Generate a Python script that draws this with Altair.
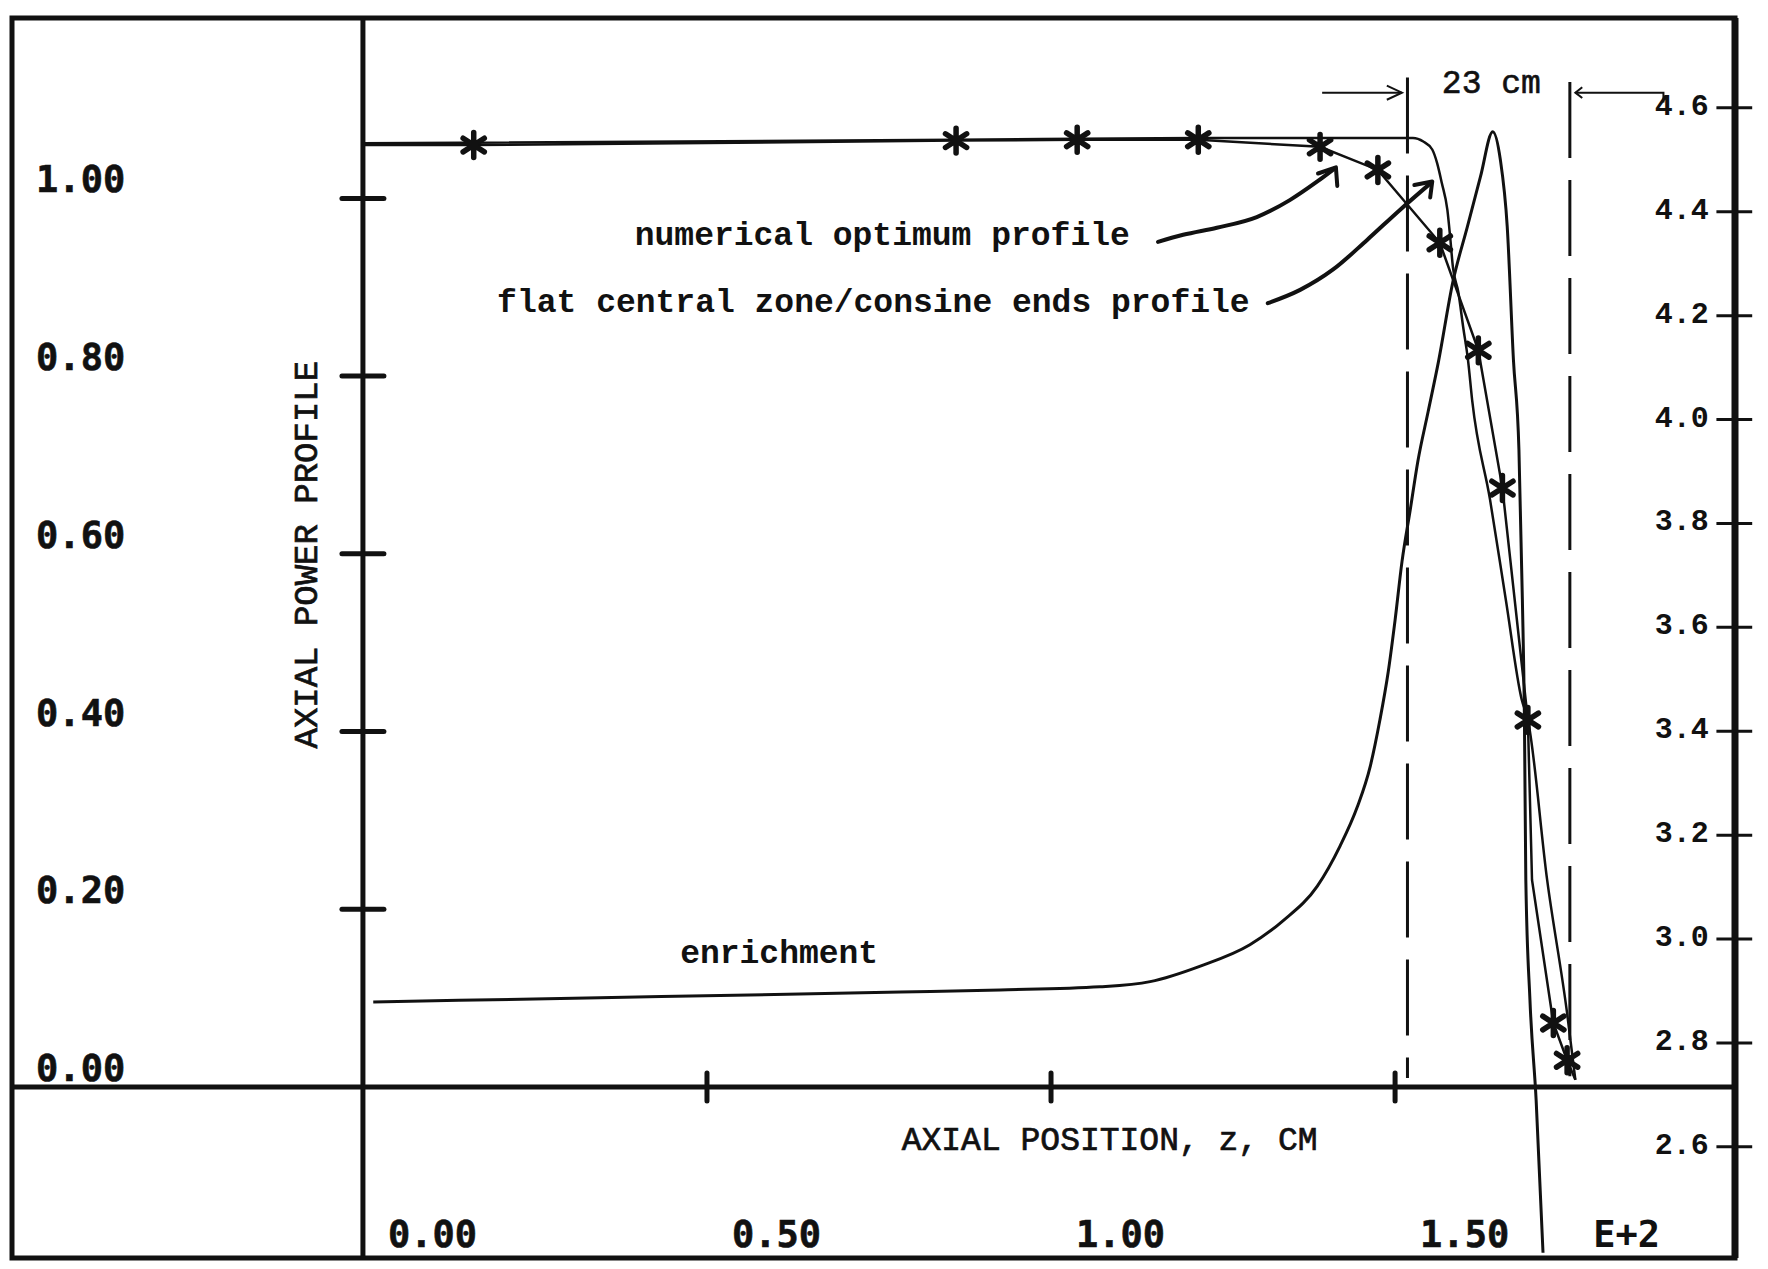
import altair as alt
import pandas as pd

# Axial position z is in units of 1E+2 cm.
# Numerical optimum power profile (asterisks mark the computed nodes).
optimum_z = [0.0, 0.161, 0.862, 1.038, 1.214, 1.391, 1.475, 1.565, 1.621, 1.656,
             1.693, 1.699, 1.730, 1.750, 1.762]
optimum_p = [1.060, 1.060, 1.065, 1.066, 1.066, 1.058, 1.032, 0.950, 0.829, 0.674,
             0.413, 0.233, 0.072, 0.030, 0.008]
optimum_star = [False, True, True, True, True, True, True, True, True, True,
                True, False, True, True, False]

# Flat central zone with cosine-shaped ends.
flat_z = [0.0, 0.862, 1.214, 1.526, 1.541, 1.554, 1.561, 1.568, 1.576, 1.580,
          1.584, 1.592, 1.599, 1.606, 1.612, 1.638, 1.661, 1.684, 1.693, 1.721,
          1.750, 1.762]
flat_p = [1.062, 1.066, 1.068, 1.068, 1.064, 1.055, 1.040, 1.017, 0.987, 0.957,
          0.923, 0.894, 0.855, 0.818, 0.773, 0.661, 0.548, 0.436, 0.413, 0.233,
          0.083, 0.008]

# Enrichment distribution (right-hand scale).
enrich_z = [0.015, 0.344, 0.781, 0.926, 1.071, 1.144, 1.217, 1.289, 1.337, 1.387,
            1.420, 1.445, 1.464, 1.478, 1.490, 1.500, 1.510, 1.522, 1.533, 1.548,
            1.563, 1.584, 1.605, 1.624, 1.642, 1.653, 1.663, 1.672, 1.680, 1.685,
            1.688, 1.690, 1.696, 1.705, 1.715]
enrich_v = [2.879, 2.887, 2.898, 2.902, 2.908, 2.918, 2.948, 2.989, 3.035, 3.102,
            3.179, 3.254, 3.333, 3.422, 3.514, 3.614, 3.726, 3.826, 3.919, 4.015,
            4.111, 4.265, 4.371, 4.467, 4.554, 4.500, 4.371, 4.115, 3.942, 3.653,
            3.422, 3.114, 2.883, 2.690, 2.396]

power_ticks = [0.0, 0.2, 0.4, 0.6, 0.8, 1.0]
z_ticks = [0.0, 0.5, 1.0, 1.5]
enrich_ticks = [2.6, 2.8, 3.0, 3.2, 3.4, 3.6, 3.8, 4.0, 4.2, 4.4, 4.6]

# Boundaries of the 23 cm end zone.
zone_z = [1.518, 1.754]
zone_top = [1.136, 1.131]
zone_bottom = [0.010, 0.012]

# Hand-drawn pointers from the labels to the curves (z, power).
ptr_opt_z = [1.1555, 1.192, 1.241, 1.299, 1.347, 1.387, 1.413]
ptr_opt_p = [0.951, 0.959, 0.967, 0.979, 0.998, 1.019, 1.034]
ptr_flat_z = [1.315, 1.362, 1.410, 1.459, 1.507, 1.553]
ptr_flat_p = [0.882, 0.897, 0.920, 0.953, 0.987, 1.018]
head_z = [1.388, 1.414, 1.416, 1.528, 1.554, 1.551]
head_p = [1.028, 1.035, 1.014, 1.015, 1.019, 1.001]
head_id = [0, 0, 0, 1, 1, 1]

# Dimension arrows for the 23 cm zone.
dim_z = [1.394, 1.510, 1.488, 1.510, 1.488, 1.890, 1.890, 1.762, 1.772, 1.762, 1.772]
dim_p = [1.119, 1.119, 1.127, 1.119, 1.111, 1.108, 1.119, 1.119, 1.125, 1.119, 1.113]
dim_id = [0, 0, 1, 1, 1, 2, 2, 2, 3, 3, 3]

X_SCALE = alt.Scale(domain=[-0.510, 1.994], nice=False, zero=False)
P_SCALE = alt.Scale(domain=[-0.1925, 1.203], nice=False, zero=False)
E_SCALE = alt.Scale(domain=[2.386, 4.773], nice=False, zero=False)

TICK_FONT = "DejaVu Sans Mono"
TYPE_FONT = "Liberation Mono"
INK = "#111111"


def xq(field):
    return alt.X(field, type="quantitative", scale=X_SCALE, axis=None)


def pq(field):
    return alt.Y(field, type="quantitative", scale=P_SCALE, axis=None)


def eq(field):
    return alt.Y(field, type="quantitative", scale=E_SCALE, axis=None)


layers = []

# inner axis lines
layers.append(alt.Chart(pd.DataFrame({"z": [0.0]})).mark_rule(
    color=INK, strokeWidth=5).encode(x=xq("z")))
layers.append(alt.Chart(pd.DataFrame({"p": [0.0]})).mark_rule(
    color=INK, strokeWidth=5).encode(y=pq("p")))
layers.append(alt.Chart(pd.DataFrame({"z": [1.994]})).mark_rule(
    color=INK, strokeWidth=7).encode(x=xq("z")))

# ticks
lt = pd.DataFrame({"p": power_ticks[1:]})
lt["x0"], lt["x1"] = -0.0305, 0.0305
layers.append(alt.Chart(lt).mark_rule(color=INK, strokeWidth=5, strokeCap="round").encode(
    x=xq("x0"), x2="x1", y=pq("p")))

bt = pd.DataFrame({"z": z_ticks[1:]})
bt["y0"], bt["y1"] = -0.0158, 0.0158
layers.append(alt.Chart(bt).mark_rule(color=INK, strokeWidth=5, strokeCap="round").encode(
    x=xq("z"), y=pq("y0"), y2="y1"))

rt = pd.DataFrame({"e": enrich_ticks})
rt["x0"], rt["x1"] = 1.967, 2.019
layers.append(alt.Chart(rt).mark_rule(color=INK, strokeWidth=3).encode(
    x=xq("x0"), x2="x1", y=eq("e")))

# tick labels
ll = pd.DataFrame({"p": power_ticks, "label": [f"{v:.2f}" for v in power_ticks]})
ll["lx"] = -0.475
layers.append(alt.Chart(ll).mark_text(
    align="left", baseline="alphabetic", dy=-6, font=TICK_FONT, fontSize=37,
    fontWeight="bold", color=INK, stroke=INK, strokeWidth=0.6).encode(
    x=xq("lx"), y=pq("p"), text="label:N"))

bl = pd.DataFrame({"z": z_ticks, "label": [f"{v:.2f}" for v in z_ticks]})
bl["ly"] = -0.180
layers.append(alt.Chart(bl).mark_text(
    align="left", baseline="alphabetic", dx=25, font=TICK_FONT, fontSize=37,
    fontWeight="bold", color=INK, stroke=INK, strokeWidth=0.6).encode(
    x=xq("z"), y=pq("ly"), text="label:N"))

layers.append(alt.Chart(pd.DataFrame({"z": [1.788], "p": [-0.180], "t": ["E+2"]})).mark_text(
    align="left", baseline="alphabetic", font=TICK_FONT, fontSize=37,
    fontWeight="bold", color=INK).encode(x=xq("z"), y=pq("p"), text="t:N"))

rl = pd.DataFrame({"e": enrich_ticks, "label": [f"{v:.1f}" for v in enrich_ticks]})
rl["lx"] = 1.956
layers.append(alt.Chart(rl).mark_text(
    align="right", baseline="middle", dy=-2, font=TYPE_FONT, fontSize=30,
    fontWeight="bold", color=INK).encode(x=xq("lx"), y=eq("e"), text="label:N"))

# axis titles
layers.append(alt.Chart(pd.DataFrame({"z": [0.783], "p": [-0.0709],
                                      "t": ["AXIAL POSITION, z, CM"]})).mark_text(
    align="left", baseline="alphabetic", font=TYPE_FONT, fontSize=33,
    color=INK, stroke=INK, strokeWidth=0.7).encode(x=xq("z"), y=pq("p"), text="t:N"))
layers.append(alt.Chart(pd.DataFrame({"z": [-0.067], "p": [0.599],
                                      "t": ["AXIAL POWER PROFILE"]})).mark_text(
    align="center", baseline="alphabetic", angle=270, font=TYPE_FONT, fontSize=34,
    color=INK, stroke=INK, strokeWidth=0.7).encode(x=xq("z"), y=pq("p"), text="t:N"))

# 23 cm zone boundaries and dimension arrows
zd = pd.DataFrame({"z": zone_z, "top": zone_top, "bottom": zone_bottom})
layers.append(alt.Chart(zd).mark_rule(color=INK, strokeWidth=3, strokeDash=[76, 22]).encode(
    x=xq("z"), y=pq("top"), y2="bottom"))

dd = pd.DataFrame({"z": dim_z, "p": dim_p, "seg": dim_id, "k": list(range(len(dim_z)))})
layers.append(alt.Chart(dd).mark_line(color=INK, strokeWidth=2).encode(
    x=xq("z"), y=pq("p"), detail="seg:N", order="k:Q"))
layers.append(alt.Chart(pd.DataFrame({"z": [1.568], "p": [1.119], "t": ["23 cm"]})).mark_text(
    align="left", baseline="alphabetic", font=TYPE_FONT, fontSize=33,
    color=INK, stroke=INK, strokeWidth=0.6).encode(x=xq("z"), y=pq("p"), text="t:N"))

# curves
ed = pd.DataFrame({"z": enrich_z, "v": enrich_v})
layers.append(alt.Chart(ed).mark_line(color=INK, strokeWidth=3, interpolate="monotone").encode(
    x=xq("z"), y=eq("v")))

fd = pd.DataFrame({"z": flat_z, "p": flat_p})
layers.append(alt.Chart(fd).mark_line(color=INK, strokeWidth=2.5, interpolate="monotone").encode(
    x=xq("z"), y=pq("p")))

od = pd.DataFrame({"z": optimum_z, "p": optimum_p, "star": optimum_star})
layers.append(alt.Chart(od).mark_line(color=INK, strokeWidth=2.5).encode(
    x=xq("z"), y=pq("p")))
STAR = "M0,-1L0,1M-0.85,-0.55L0.85,0.55M-0.85,0.55L0.85,-0.55"
layers.append(alt.Chart(od[od["star"]]).mark_point(
    shape=STAR, size=620, filled=False, stroke=INK, strokeWidth=5.5, strokeCap="round",
    opacity=1).encode(x=xq("z"), y=pq("p")))

# pointers
pd_opt = pd.DataFrame({"z": ptr_opt_z, "p": ptr_opt_p})
layers.append(alt.Chart(pd_opt).mark_line(color=INK, strokeWidth=4, strokeCap="round",
                                          interpolate="monotone").encode(x=xq("z"), y=pq("p")))
pd_flat = pd.DataFrame({"z": ptr_flat_z, "p": ptr_flat_p})
layers.append(alt.Chart(pd_flat).mark_line(color=INK, strokeWidth=4, strokeCap="round",
                                           interpolate="monotone").encode(x=xq("z"), y=pq("p")))
hd = pd.DataFrame({"z": head_z, "p": head_p, "seg": head_id, "k": list(range(len(head_z)))})
layers.append(alt.Chart(hd).mark_line(color=INK, strokeWidth=4, strokeCap="round",
                                      strokeJoin="round").encode(
    x=xq("z"), y=pq("p"), detail="seg:N", order="k:Q"))

# curve labels
notes = pd.DataFrame({
    "z": [0.395, 0.195],
    "p": [0.948, 0.872],
    "t": ["numerical optimum profile", "flat central zone/consine ends profile"],
})
layers.append(alt.Chart(notes).mark_text(
    align="left", baseline="alphabetic", font=TYPE_FONT, fontSize=33, fontWeight="bold",
    color=INK).encode(x=xq("z"), y=pq("p"), text="t:N"))
layers.append(alt.Chart(pd.DataFrame({"z": [0.461], "v": [2.954], "t": ["enrichment"]})).mark_text(
    align="left", baseline="alphabetic", font=TYPE_FONT, fontSize=33, fontWeight="bold",
    color=INK).encode(x=xq("z"), y=eq("v"), text="t:N"))

chart = alt.layer(*layers).resolve_scale(y="independent").properties(
    width=1723,
    height=1240,
    autosize=alt.AutoSizeParams(type="none"),
    padding={"left": 12, "top": 18, "right": 33, "bottom": 11},
    background="white",
).configure_view(stroke=INK, strokeWidth=5)

chart.save("out.html", embed_options={"renderer": "svg", "actions": False})
